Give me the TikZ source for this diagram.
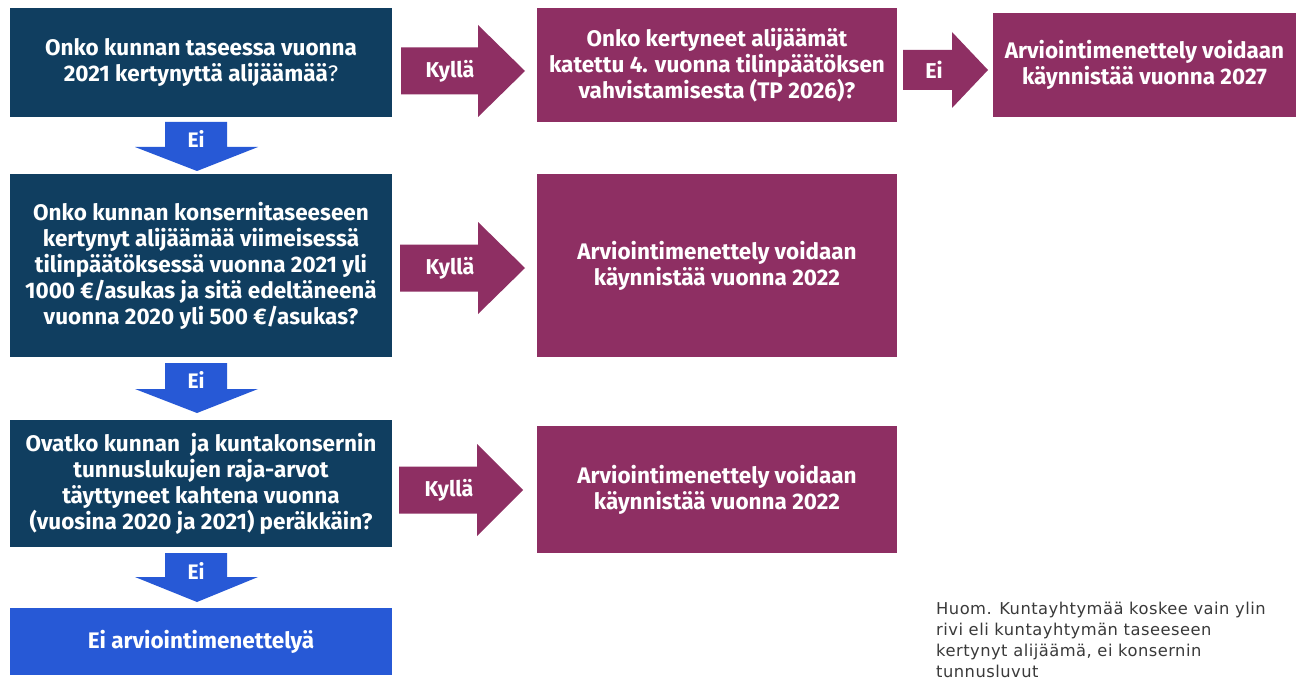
\documentclass[tikz,border=0pt]{standalone}
\usepackage{fontspec}
\setmainfont{Fira Sans}
\newfontfamily\notefont[LetterSpace=3]{DejaVu Sans}
\definecolor{navy}{HTML}{103E60}
\definecolor{mag}{HTML}{8E2F63}
\definecolor{blu}{HTML}{2759D6}
\definecolor{notegray}{HTML}{3A3A3A}
\tikzset{
  box/.style={inner sep=0pt, align=center, text=white, font=\bfseries\fontsize{22.5}{26}\selectfont},
  navybox/.style={box, fill=navy, minimum width=382pt},
  magbox/.style={box, fill=mag, font=\bfseries\fontsize{22.5}{26}\selectfont},
  lbl/.style={text=white, inner sep=0pt, font=\bfseries\fontsize{21.5}{24}\selectfont},
  dlbl/.style={text=white, inner sep=0pt, font=\bfseries\fontsize{21}{24}\selectfont},
}
% horizontal block arrow: name, x0, xb, xtip, yc, label x, label, colour
\newcommand\hblock[8]{%
  \fill[#8] (#2,#5-23.5) -- (#3,#5-23.5) -- (#3,#5-46) -- (#4,#5)
    -- (#3,#5+46) -- (#3,#5+23.5) -- (#2,#5+23.5) -- cycle;
  \node[lbl] (#1) at (#6,#5) {#7};}
% vertical block arrow: name, y0, yb, ytip, label y
\newcommand\vblock[5]{%
  \fill[blu] (165,#2) -- (227,#2) -- (227,#3) -- (258,#3) -- (197,#4)
    -- (135,#3) -- (165,#3) -- cycle;
  \node[dlbl] (#1) at (196,#5) {Ei};}
\begin{document}
\begin{tikzpicture}[x=1pt,y=-1pt]
\useasboundingbox (0,0) rectangle (1302,682);
\fill[white] (0,0) rectangle (1302,682);

\node[navybox, minimum height=109pt] (q1) at (201,62.5)
  {Onko kunnan taseessa vuonna\\2021 kertynyttä alijäämää{\mdseries ?}};
\node[navybox, minimum height=183pt] (q2) at (201,265.5)
  {Onko kunnan konsernitaseeseen\\kertynyt alijäämää viimeisessä\\tilinpäätöksessä vuonna 2021 yli\\1000 €/asukas ja sitä edeltäneenä\\vuonna 2020 yli 500 €/asukas?};
\node[navybox, minimum height=127pt] (q3) at (201,483.5)
  {Ovatko kunnan\ \ ja kuntakonsernin\\tunnuslukujen raja-arvot\\täyttyneet kahtena vuonna\\(vuosina 2020 ja 2021) peräkkäin?};
\node[box, fill=blu, minimum width=382pt, minimum height=67pt] (r0) at (201,641.5)
  {Ei arviointimenettelyä};

\node[magbox, minimum width=360pt, minimum height=114pt] (m1) at (717,65)
  {Onko kertyneet alijäämät\\katettu 4. vuonna tilinpäätöksen\\vahvistamisesta (TP 2026)?};
\node[magbox, minimum width=303pt, minimum height=104pt] (m4) at (1144.5,65)
  {Arviointimenettely voidaan\\käynnistää vuonna 2027};
\node[magbox, minimum width=360pt, minimum height=183pt] (m2) at (717,265.5)
  {Arviointimenettely voidaan\\käynnistää vuonna 2022};
\node[magbox, minimum width=360pt, minimum height=127pt] (m3) at (717,489.5)
  {Arviointimenettely voidaan\\käynnistää vuonna 2022};

\hblock{k1}{401}{478}{525}{71}{450}{Kyllä}{mag}
\hblock{k2}{400}{478}{525}{268}{450}{Kyllä}{mag}
\hblock{k3}{399}{477}{523}{490}{449}{Kyllä}{mag}
\fill[mag] (903,50) -- (952,50) -- (952,32) -- (988,70) -- (952,108) -- (952,90) -- (903,90) -- cycle;
\node[lbl] (e1) at (934,70) {Ei};

\vblock{d1}{122}{147}{171}{139}
\vblock{d2}{363}{389}{413}{380}
\vblock{d3}{553}{577}{602}{571}

\node[anchor=north west, align=left, inner sep=0pt, text=notegray,
  font=\notefont\fontsize{16.3}{21}\selectfont] (note) at (936,602)
  {Huom. Kuntayhtymää koskee vain ylin\\rivi eli kuntayhtymän taseeseen\\kertynyt alijäämä, ei konsernin\\tunnusluvut};
\end{tikzpicture}
\end{document}
